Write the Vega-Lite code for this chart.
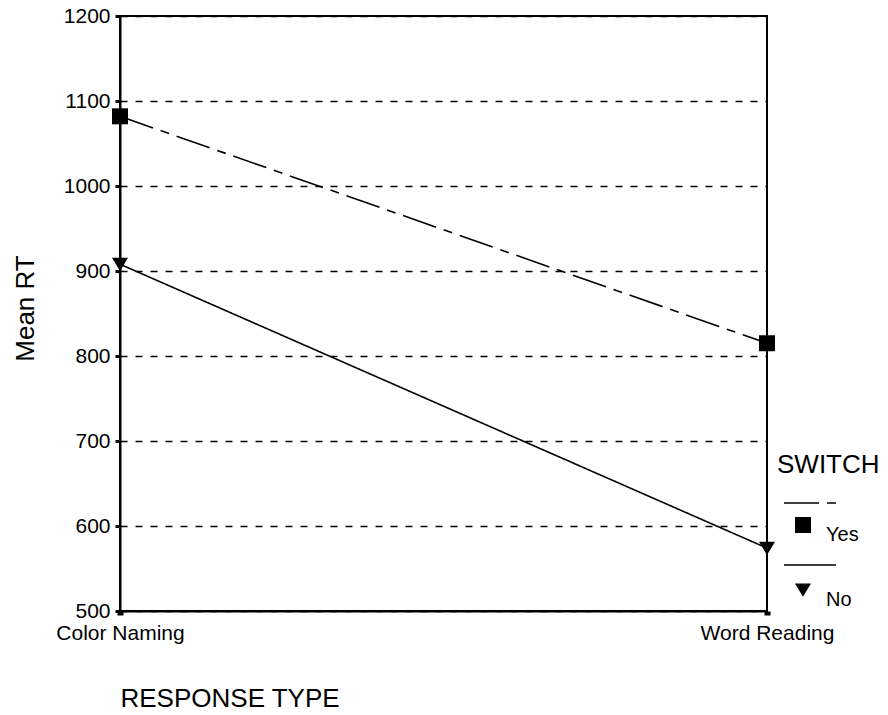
{
  "$schema": "https://vega.github.io/schema/vega-lite/v6.json",
  "autosize": {"type": "none"},
  "padding": {"left": 120, "top": 16, "right": 121, "bottom": 104},
  "width": 647,
  "height": 595,
  "background": "white",
  "config": {
    "font": "Liberation Sans",
    "view": {"stroke": "black", "strokeWidth": 2},
    "axis": {"labelColor": "black", "titleColor": "black", "titleFontWeight": "normal", "domainColor": "black", "tickColor": "black"}
  },
  "data": {
    "values": [
      {"RESPONSE": "Color Naming", "SWITCH": "Yes", "RT": 1082},
      {"RESPONSE": "Word Reading", "SWITCH": "Yes", "RT": 815},
      {"RESPONSE": "Color Naming", "SWITCH": "No", "RT": 908},
      {"RESPONSE": "Word Reading", "SWITCH": "No", "RT": 574}
    ]
  },
  "encoding": {
    "x": {
      "field": "RESPONSE", "type": "nominal", "sort": ["Color Naming", "Word Reading"],
      "scale": {"type": "point", "padding": 0},
      "axis": {
        "title": "RESPONSE TYPE", "labelAngle": 0, "labelFontSize": 21, "labelPadding": 7,
        "tickSize": 4, "tickWidth": 6, "domainWidth": 2, "grid": false,
        "titleFontSize": 26, "titleX": 0, "titleY": 74, "titleAlign": "left", "titleBaseline": "top", "titleAnchor": null
      }
    },
    "y": {
      "field": "RT", "type": "quantitative",
      "scale": {"domain": [500, 1200], "nice": false, "zero": false},
      "axis": {
        "title": "Mean RT", "values": [500, 600, 700, 800, 900, 1000, 1100, 1200], "format": "d",
        "labelFontSize": 21, "labelPadding": 5, "tickSize": 5, "tickWidth": 3, "domainWidth": 2,
        "grid": true, "gridColor": "black", "gridDash": [7, 8], "gridWidth": 1.5, "gridOpacity": 1,
        "titleFontSize": 26, "titleX": -87, "titleY": 292, "titleAlign": "center", "titleBaseline": "alphabetic", "titleAngle": -90
      }
    }
  },
  "layer": [
    {
      "mark": {"type": "line", "color": "black", "strokeWidth": 1.6},
      "encoding": {
        "strokeDash": {
          "field": "SWITCH", "type": "nominal",
          "scale": {"domain": ["Yes", "No"], "range": [[35, 8, 9, 8], [1, 0]]},
          "legend": {
            "title": "SWITCH", "orient": "none", "legendX": 657, "legendY": 436, "padding": 0,
            "symbolType": "stroke", "symbolSize": 2704, "symbolStrokeWidth": 1.6, "symbolStrokeColor": "black",
            "symbolOffset": 6, "labelExpr": "''", "titleFontSize": 26, "titleFontWeight": "normal", "titleColor": "black",
            "titlePadding": -2, "rowPadding": 30
          }
        }
      }
    },
    {
      "mark": {"type": "point", "filled": true, "color": "black", "opacity": 1, "size": 256},
      "encoding": {
        "shape": {
          "field": "SWITCH", "type": "nominal", "sort": ["Yes", "No"],
          "scale": {"range": ["M-1,-1H1V1H-1Z", "M-1,-0.8H1L0,0.85Z"]},
          "legend": {
            "title": null, "orient": "none", "legendX": 673, "legendY": 499, "padding": 0,
            "symbolSize": 256, "symbolFillColor": "black", "symbolStrokeWidth": 0, "symbolOpacity": 1,
            "labelFontSize": 20, "labelColor": "black", "labelBaseline": "top", "labelOffset": 13, "rowPadding": 35
          }
        }
      }
    }
  ]
}
